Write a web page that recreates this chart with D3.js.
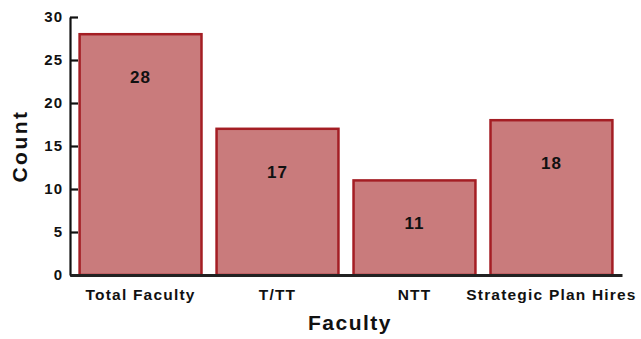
<!DOCTYPE html>
<html>
<head>
<meta charset="utf-8">
<script src="https://cdn.jsdelivr.net/npm/d3@7"></script>
<style>
  html, body { margin: 0; padding: 0; background: #fff; }
  svg { display: block; }
  text { font-family: "Liberation Sans", Arial, Helvetica, sans-serif; font-weight: bold; fill: #111; }
</style>
</head>
<body>
<svg id="chart" width="641" height="339"></svg>
<script>
// Faculty counts
const categories = ["Total Faculty", "T/TT", "NTT", "Strategic Plan Hires"];
const counts = [28, 17, 11, 18];
const yTicks = [0, 5, 10, 15, 20, 25, 30];

const svg = d3.select("#chart");

const x = d3.scaleBand()
  .domain(categories)
  .range([70, 622])
  .paddingInner(0.11)
  .paddingOuter(0.07);

const y = d3.scaleLinear()
  .domain([0, 30])
  .range([275, 17]);

// Bars
svg.append("g")
  .selectAll("rect")
  .data(categories)
  .join("rect")
  .attr("x", d => x(d))
  .attr("y", (d, i) => y(counts[i]))
  .attr("width", x.bandwidth())
  .attr("height", (d, i) => y(0) - y(counts[i]))
  .attr("fill", "#c97b7c")
  .attr("stroke", "#a41e24")
  .attr("stroke-width", 2.5);

// Value labels inside the bars
svg.append("g")
  .selectAll("text")
  .data(categories)
  .join("text")
  .attr("x", d => x(d) + x.bandwidth() / 2)
  .attr("y", (d, i) => y(counts[i]) + 49)
  .attr("text-anchor", "middle")
  .attr("font-size", 17)
  .attr("letter-spacing", 1)
  .text((d, i) => counts[i]);

// Y axis
const yAxis = svg.append("g")
  .attr("transform", "translate(70,0)")
  .call(d3.axisLeft(y).tickValues(yTicks).tickSizeInner(-8).tickSizeOuter(0).tickPadding(7));
yAxis.select(".domain").attr("stroke", "#111").attr("stroke-width", 2.2);
yAxis.selectAll(".tick line").attr("stroke", "#111").attr("stroke-width", 2.2);
yAxis.selectAll(".tick text")
  .attr("font-size", 15)
  .attr("letter-spacing", 1)
  .attr("font-family", "Liberation Sans, Arial, sans-serif")
  .attr("font-weight", "bold")
  .attr("fill", "#111");

// X axis
const xAxis = svg.append("g")
  .attr("transform", `translate(0,${y(0)})`)
  .call(d3.axisBottom(x).tickSize(0).tickPadding(14));
xAxis.select(".domain").attr("stroke", "#222").attr("stroke-width", 3);
xAxis.selectAll(".tick text")
  .attr("font-size", 15.5)
  .attr("letter-spacing", 1.2)
  .attr("font-family", "Liberation Sans, Arial, sans-serif")
  .attr("font-weight", "bold")
  .attr("fill", "#111");

// Axis titles
svg.append("text")
  .attr("x", 350)
  .attr("y", 330)
  .attr("text-anchor", "middle")
  .attr("font-size", 21)
  .attr("letter-spacing", 1.5)
  .text("Faculty");

svg.append("text")
  .attr("transform", "translate(27,146) rotate(-90)")
  .attr("text-anchor", "middle")
  .attr("font-size", 21)
  .attr("letter-spacing", 2.5)
  .text("Count");
</script>
</body>
</html>
